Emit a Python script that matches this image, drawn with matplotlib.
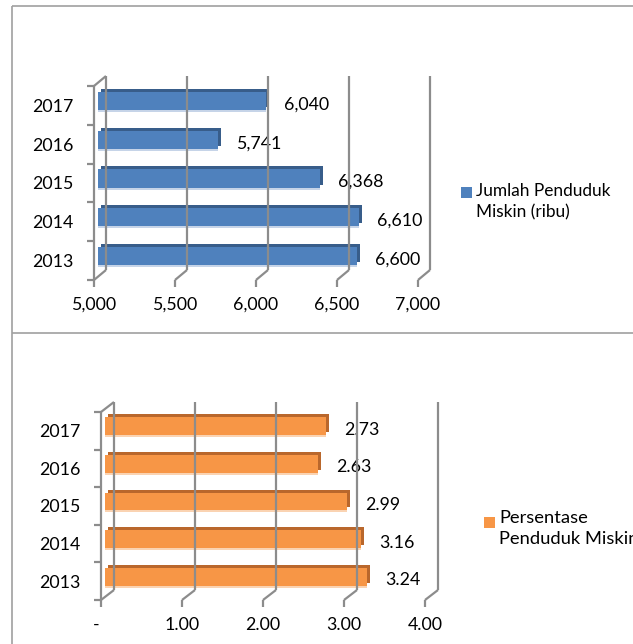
import matplotlib
matplotlib.use("Agg")
import matplotlib.pyplot as plt
import matplotlib.transforms as mtransforms
from matplotlib.lines import Line2D
from matplotlib.patches import Rectangle

plt.rcParams['font.family'] = ['Lato', 'DejaVu Sans']

# ---------------- data ----------------
years = ["2013", "2014", "2015", "2016", "2017"]
jumlah = [6600, 6610, 6368, 5741, 6040]          # ribu
persen = [3.24, 3.16, 2.99, 2.63, 2.73]
jumlah_ticks = [5000, 5500, 6000, 6500, 7000]
jumlah_ticklabels = ["5,000", "5,500", "6,000", "6,500", "7,000"]
persen_ticks = [0, 1, 2, 3, 4]
persen_ticklabels = ["-  ", "1.00", "2.00", "3.00", "4.00"]
legend_jumlah = "Jumlah Penduduk\nMiskin (ribu)"
legend_persen = "Persentase\nPenduduk Miskin"

W, H = 633, 644
DPI = 100
fig = plt.figure(figsize=(W / DPI, H / DPI), dpi=DPI)

GRID = "#8C8C8C"
BORDER = "#A0A0A0"
FS = 12.8


def px_off(dx, dy):
    return mtransforms.ScaledTranslation(dx / DPI, dy / DPI, fig.dpi_scale_trans)


def fig_line(xs_px, ys_px, color, lw):
    # xs/ys in pixel coords with y measured from top
    fig.add_artist(Line2D([x / W for x in xs_px], [1 - y / H for y in ys_px],
                          transform=fig.transFigure, color=color, lw=lw,
                          solid_capstyle='butt'))


def panel(left, right, top, bottom, xmin, xmax, ticks, ticklabels, values,
          fmt, face, dark, light, back_dx, back_dy, leg_sq, leg_txt, leg_label, leg_fs):
    ax = fig.add_axes([left / W, 1 - bottom / H, (right - left) / W, (bottom - top) / H])
    ax.set_xlim(xmin, xmax)
    ax.set_ylim(-0.5, len(values) - 0.5)
    ax.axis('off')
    fig.canvas.draw()
    ylo, yhi = -0.5, len(values) - 0.5

    def disp(x, y):
        p = ax.transData.transform((x, y))
        return p[0], H - p[1]

    lw = 1.6
    # back wall vertical grid lines + floor diagonals + tick marks
    for t in ticks:
        x0, y0 = disp(t, ylo)
        x1, y1 = disp(t, yhi)
        fig_line([x0 + back_dx, x1 + back_dx], [y0 - back_dy, y1 - back_dy], GRID, lw)
        fig_line([x0, x0 + back_dx], [y0, y0 - back_dy], GRID, lw)
        fig_line([x0, x0], [y0, y0 + 7], GRID, lw)
    # left wall: front vertical and top diagonal
    xa, ya = disp(xmin, ylo)
    xb, yb = disp(xmin, yhi)
    fig_line([xa, xb], [ya, yb], GRID, lw)
    fig_line([xb, xb + back_dx], [yb, yb - back_dy], GRID, lw)
    # category tick marks
    for k in range(len(values) + 1):
        xc, yc = disp(xmin, ylo + k)
        fig_line([xc - 7, xc], [yc, yc], GRID, lw)

    pos = list(range(len(values)))
    h = 0.47
    base = xmin
    widths = [v - base for v in values]
    ax.barh(pos, widths, left=base, height=h, color=dark, clip_on=False,
            transform=ax.transData + px_off(7, 7.5))
    ax.barh(pos, widths, left=base, height=h, color=light, clip_on=False,
            transform=ax.transData + px_off(4, 2.5))
    ax.barh(pos, widths, left=base, height=h, color=face, clip_on=False,
            transform=ax.transData + px_off(4, 4.5))

    for p, v in zip(pos, values):
        ax.text(v, p, fmt(v), fontsize=FS, ha='left', va='center',
                transform=ax.transData + px_off(22, 1), clip_on=False)

    # tick labels
    for t, lab in zip(ticks, ticklabels):
        x0, y0 = disp(t, ylo)
        fig.text(x0 / W, 1 - (y0 + 25) / H, lab, fontsize=FS, ha='center', va='center')
    for p, lab in zip(pos, years):
        x0, y0 = disp(xmin, p)
        fig.text((x0 - 21) / W, 1 - (y0 + 1.5) / H, lab, fontsize=FS, ha='right', va='center')

    # legend
    sx, sy = leg_sq
    fig.add_artist(Rectangle((sx / W, 1 - (sy + 10.5) / H), 11 / W, 10.5 / H,
                             transform=fig.transFigure, color=face, lw=0))
    tx, ty = leg_txt
    fig.text(tx / W, 1 - ty / H, leg_label, fontsize=leg_fs, ha='left', va='top',
             linespacing=1.4)
    return ax


panel(94, 418, 86, 280, 5000, 7000, jumlah_ticks, jumlah_ticklabels, jumlah,
      lambda v: f"{v:,}", "#4F81BD", "#385D8A", "#C6D4E8", 12, 10,
      (461, 187), (476, 183), legend_jumlah, 12.4)

panel(101, 425, 412, 600, 0, 4, persen_ticks, persen_ticklabels, persen,
      lambda v: f"{v:.2f}", "#F79646", "#B9672C", "#FAD3B2", 13, 10,
      (484, 517), (499, 510), legend_persen, 13.2)

# panel borders
fig_line([12, 12], [6, 644], BORDER, 1.2)
fig_line([12, 633], [6, 6], BORDER, 1.2)
fig_line([12, 633], [333, 333], BORDER, 1.2)

fig.savefig("out.png", dpi=DPI)
